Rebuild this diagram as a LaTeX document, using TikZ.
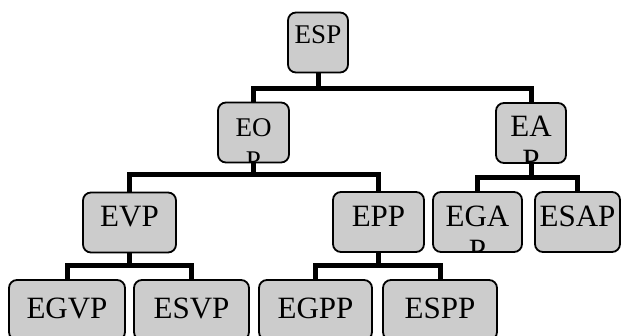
\documentclass[tikz,border=0pt]{standalone}
\usepackage{fontspec}
\setmainfont{Liberation Serif}
\usetikzlibrary{positioning}
\definecolor{boxgray}{HTML}{CCCCCC}

\begin{document}
\begin{tikzpicture}[
    x=1pt, y=1pt,
    tinset/.store in=\tinset, tinset=13pt,
    tfont/.store in=\tfont, tfont={\fontsize{31}{34}\selectfont},
    box/.style={draw, line width=1.8pt, rounded corners=8pt, fill=boxgray, inner sep=0pt, minimum height=60pt},
    boxtext/.style={path picture={\node[anchor=north, align=center, inner sep=0pt, minimum width=0pt, minimum height=0pt, draw=none, fill=none, font=\tfont] at ([yshift=-\tinset]path picture bounding box.north) {#1};}},
    smalltext/.style={tfont={\fontsize{27}{33}\selectfont}},
    link/.style={line width=5pt}
]
    \useasboundingbox (0,0) rectangle (621,335);

    % top levels
    \node[box, minimum width=60pt, smalltext, tinset=12pt, boxtext=ESP] (esp) at (318,292.5) {};
    \node[box, minimum width=71pt, smalltext, tinset=15pt, boxtext={EO\\P}] (eop) at (253.5,202.5) {};
    \node[box, minimum width=70pt, tinset=12pt, boxtext={EA\\P}] (eap) at (531,202) {};

    \node[box, minimum width=93pt, boxtext=EVP] (evp) at (129.5,112.5) {};
    \node[box, minimum width=91pt, boxtext=EPP] (epp) at (378.5,113) {};
    \node[box, minimum width=89pt, boxtext={EGA\\P}] (egap) at (477.5,113) {};
    \node[box, minimum width=85pt, boxtext=ESAP] (esap) at (577.5,113) {};

    % bottom row
    \node[box, minimum width=116pt, tinset=17pt, boxtext=EGVP] (egvp) at (67,25) {};
    \node[box, minimum width=115pt, tinset=17pt, boxtext=ESVP] (esvp) at (191.5,25) {};
    \node[box, minimum width=113pt, tinset=17pt, boxtext=EGPP] (egpp) at (315.5,25) {};
    \node[box, minimum width=114pt, tinset=17pt, boxtext=ESPP] (espp) at (440,25) {};

    % connectors
    \coordinate (espbar) at ([yshift=-15pt]esp.south);
    \coordinate (eopbar) at ([yshift=-11.5pt]eop.south);
    \coordinate (eapbar) at ([yshift=-14pt]eap.south);
    \coordinate (evpbar) at ([yshift=-12.5pt]evp.south);
    \coordinate (eppbar) at ([yshift=-13pt]epp.south);

    \draw[link] (esp.south) -- (espbar);
    \draw[link] (eop.north) |- (espbar) -| (eap.north);
    \draw[link] (eop.south) -- (eopbar);
    \draw[link] (evp.north) |- (eopbar) -| (epp.north);
    \draw[link] (eap.south) -- (eapbar);
    \draw[link] (egap.north) |- (eapbar) -| (esap.north);
    \draw[link] (evp.south) -- (evpbar);
    \draw[link] (egvp.north) |- (evpbar) -| (esvp.north);
    \draw[link] (epp.south) -- (eppbar);
    \draw[link] (egpp.north) |- (eppbar) -| (espp.north);
\end{tikzpicture}
\end{document}
